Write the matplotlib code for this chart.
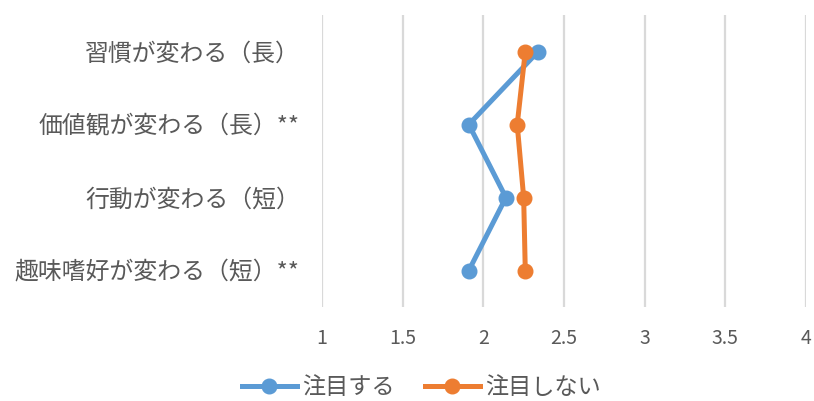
import matplotlib
matplotlib.use("Agg")
import matplotlib.pyplot as plt
from matplotlib.lines import Line2D

plt.rcParams['font.family'] = ['Noto Sans CJK JP', 'DejaVu Sans']

categories = ["習慣が変わる（長）", "価値観が変わる（長）**", "行動が変わる（短）", "趣味嗜好が変わる（短）**"]
series_names = ["注目する", "注目しない"]
attend = [2.34, 1.91, 2.14, 1.91]
not_attend = [2.26, 2.21, 2.25, 2.26]
x_ticks = [1, 1.5, 2, 2.5, 3, 3.5, 4]
x_tick_labels = ["1", "1.5", "2", "2.5", "3", "3.5", "4"]

blue = "#5B9BD5"
orange = "#ED7D31"
text_gray = "#595959"

fig = plt.figure(figsize=(8.14, 4.01), dpi=100)
ax = fig.add_axes([322 / 814, 1 - 307 / 401, (806 - 322) / 814, (307 - 15) / 401])

ypos = list(range(len(categories)))
ax.plot(attend, ypos, color=blue, lw=3.6, marker="o", ms=10.5, solid_capstyle="round", zorder=3)
ax.plot(not_attend, ypos, color=orange, lw=3.6, marker="o", ms=10.5, solid_capstyle="round", zorder=3)

ax.set_xlim(1, 4)
ax.set_ylim(len(categories) - 0.5, -0.5)
ax.set_xticks(x_ticks)
ax.set_xticklabels(x_tick_labels)
ax.set_yticks(ypos)
ax.set_yticklabels(categories)

ax.grid(axis="x", color="#D9D9D9", lw=1.6)
ax.set_axisbelow(True)
for s in ax.spines.values():
    s.set_visible(False)
ax.tick_params(axis="both", length=0, colors=text_gray)
ax.tick_params(axis="x", labelsize=14, pad=15)
ax.tick_params(axis="y", labelsize=17.2, pad=16)

handles = [
    Line2D([], [], color=blue, lw=3.6, marker="o", ms=10.5),
    Line2D([], [], color=orange, lw=3.6, marker="o", ms=10.5),
]
leg = fig.legend(handles, series_names, loc="center", bbox_to_anchor=(421 / 814, 1 - 388 / 401),
                 ncol=2, frameon=False, fontsize=16.7, handlelength=2.4, handletextpad=0.2,
                 columnspacing=1.3, labelcolor=text_gray)

fig.savefig("out.png", dpi=100)
